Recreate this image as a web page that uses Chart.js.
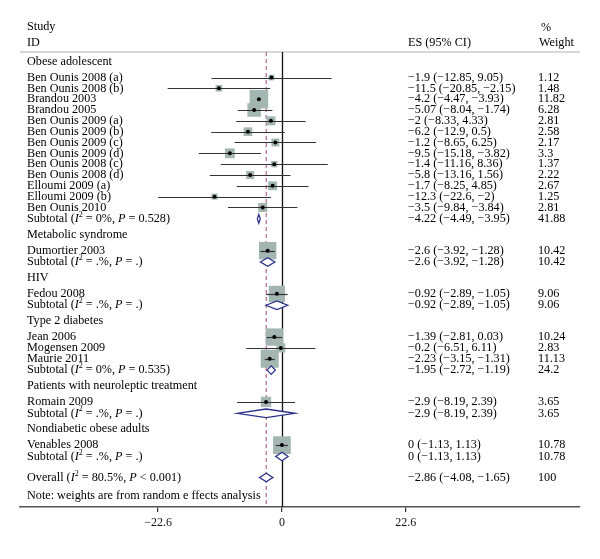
<!DOCTYPE html>
<html><head><meta charset="utf-8">
<script src="https://cdn.jsdelivr.net/npm/chart.js@4"></script>
<style>html,body{margin:0;padding:0;background:#fff}#wrap{width:600px;height:559px;position:relative}</style>
</head><body><div id="wrap"><canvas id="c" width="600" height="559"></canvas></div>
<script>
// ---------- data ----------
const rowTypes = ["group","study","study","study","study","study","study","study","study","study","study","study","study","study","subtotal",
  "group","study","subtotal",
  "group","study","subtotal",
  "group","study","study","study","subtotal",
  "group","study","subtotal",
  "group","study","subtotal",
  "overall","note"];
const rowLabels = ["Obese adolescent","Ben Ounis 2008 (a)","Ben Ounis 2008 (b)","Brandou 2003","Brandou 2005","Ben Ounis 2009 (a)","Ben Ounis 2009 (b)","Ben Ounis 2009 (c)","Ben Ounis 2009 (d)","Ben Ounis 2008 (c)","Ben Ounis 2008 (d)","Elloumi 2009 (a)","Elloumi 2009 (b)","Ben Ounis 2010",
  "Subtotal (*I*^2^ = 0%, *P* = 0.528)",
  "Metabolic syndrome","Dumortier 2003","Subtotal (*I*^2^ = .%, *P* = .)",
  "HIV","Fedou 2008","Subtotal (*I*^2^ = .%, *P* = .)",
  "Type 2 diabetes","Jean 2006","Mogensen 2009","Maurie 2011","Subtotal (*I*^2^ = 0%, *P* = 0.535)",
  "Patients with neuroleptic treatment","Romain 2009","Subtotal (*I*^2^ = .%, *P* = .)",
  "Nondiabetic obese adults","Venables 2008","Subtotal (*I*^2^ = .%, *P* = .)",
  "Overall (*I*^2^ = 80.5%, *P* < 0.001)","Note: weights are from random e ffects analysis"];
const es     = [null,-1.9,-11.5,-4.2,-5.07,-2,-6.2,-1.2,-9.5,-1.4,-5.8,-1.7,-12.3,-3.5,-4.22, null,-2.6,-2.6, null,-0.92,-0.92, null,-1.39,-0.2,-2.23,-1.95, null,-2.9,-2.9, null,0,0, -2.86,null];
const ciLow  = [null,-12.85,-20.85,-4.47,-8.04,-8.33,-12.9,-8.65,-15.18,-11.16,-13.16,-8.25,-22.6,-9.84,-4.49, null,-3.92,-3.92, null,-2.89,-2.89, null,-2.81,-6.51,-3.15,-2.72, null,-8.19,-8.19, null,-1.13,-1.13, -4.08,null];
const ciHigh = [null,9.05,-2.15,-3.93,-1.74,4.33,0.5,6.25,-3.82,8.36,1.56,4.85,-2,2.84,-3.95, null,-1.28,-1.28, null,1.05,1.05, null,0.03,6.11,-1.31,-1.19, null,2.39,2.39, null,1.13,1.13, -1.65,null];
const ciLabels = [null,"−1.9 (−12.85, 9.05)","−11.5 (−20.85, −2.15)","−4.2 (−4.47, −3.93)","−5.07 (−8.04, −1.74)","−2 (−8.33, 4.33)","−6.2 (−12.9, 0.5)","−1.2 (−8.65, 6.25)","−9.5 (−15.18, −3.82)","−1.4 (−11.16, 8.36)","−5.8 (−13.16, 1.56)","−1.7 (−8.25, 4.85)","−12.3 (−22.6, −2)","−3.5 (−9.84, −3.84)","−4.22 (−4.49, −3.95)",
  null,"−2.6 (−3.92, −1.28)","−2.6 (−3.92, −1.28)",
  null,"−0.92 (−2.89, −1.05)","−0.92 (−2.89, −1.05)",
  null,"−1.39 (−2.81, 0.03)","−0.2 (−6.51, 6.11)","−2.23 (−3.15, −1.31)","−1.95 (−2.72, −1.19)",
  null,"−2.9 (−8.19, 2.39)","−2.9 (−8.19, 2.39)",
  null,"0 (−1.13, 1.13)","0 (−1.13, 1.13)",
  "−2.86 (−4.08, −1.65)",null];
const weights = [null,1.12,1.48,11.82,6.28,2.81,2.58,2.17,3.3,1.37,2.22,2.67,1.25,2.81,41.88, null,10.42,10.42, null,9.06,9.06, null,10.24,2.83,11.13,24.2, null,3.65,3.65, null,10.78,10.78, 100,null];
const xTicks = [-22.6, 0, 22.6];
const overallES = -2.86;
const headLeft = ["Study","ID"];
const headES = "ES (95% CI)";
const headW = ["%","Weight"];

// ---------- layout ----------
const GAP = {start:9.5,'group>study':16,'study>study':10.83,'study>subtotal':11.4,'subtotal>group':15.8,'subtotal>overall':21,'overall>note':18.7};
const rowY = []; { let y=0, prev='start'; rowTypes.forEach((t,i)=>{ y += i===0?GAP.start:GAP[prev+'>'+t]; rowY.push(y); prev=t; }); }
const FONT = '"Liberation Serif","Times New Roman",serif';
const FS = 12.2;
const BOX_K = 5.4;
const COL_ES = 408, COL_W = 538, COL_L = 27;

const studyPts = [];
rowTypes.forEach((t,i)=>{ if(t==='study') studyPts.push({x:es[i], y:rowY[i], w:weights[i], i}); });

const fmtTick = v => v<0 ? '−'+Math.abs(v) : String(v);

function drawRich(ctx, str, x, y){
  const parts = str.split(/(\*[^*]+\*|\^[^^]+\^)/).filter(s=>s.length);
  ctx.textBaseline='middle'; ctx.textAlign='left';
  for(const p of parts){
    let t=p, f=FS+'px '+FONT, dy=0;
    if(p[0]==='*'){ t=p.slice(1,-1); f='italic '+FS+'px '+FONT; }
    else if(p[0]==='^'){ t=p.slice(1,-1); f='8px '+FONT; dy=-4; }
    ctx.font=f; ctx.fillText(t, x, y+dy); x += ctx.measureText(t).width;
  }
}

const forest = {
  id:'forest',
  beforeDatasetsDraw(chart){
    const {ctx, chartArea:a, scales:{x}} = chart;
    ctx.save();
    ctx.strokeStyle='#c8cccc'; ctx.lineWidth=1.5;
    ctx.beginPath(); ctx.moveTo(a.left,a.top); ctx.lineTo(a.right,a.top); ctx.stroke();
    const x0=Math.round(x.getPixelForValue(0))+0.5;
    ctx.strokeStyle='#111'; ctx.lineWidth=1.3;
    ctx.beginPath(); ctx.moveTo(x0,a.top); ctx.lineTo(x0,a.bottom); ctx.stroke();
    const xo=x.getPixelForValue(overallES);
    ctx.strokeStyle='#b06a8a'; ctx.lineWidth=1.2; ctx.setLineDash([4,3]);
    ctx.beginPath(); ctx.moveTo(xo,a.top); ctx.lineTo(xo,a.bottom); ctx.stroke();
    ctx.restore();
  },
  afterDatasetDraw(chart, args){
    if(args.index!==1) return;
    const {ctx, scales:{x,y}} = chart;
    ctx.save(); ctx.strokeStyle='#333'; ctx.lineWidth=1.2;
    rowTypes.forEach((t,i)=>{
      if(t!=='study') return;
      const py=Math.round(y.getPixelForValue(rowY[i]))+0.5;
      ctx.beginPath(); ctx.moveTo(x.getPixelForValue(ciLow[i]),py); ctx.lineTo(x.getPixelForValue(ciHigh[i]),py); ctx.stroke();
    });
    ctx.restore();
  },
  afterDatasetsDraw(chart){
    const {ctx, scales:{x,y}} = chart;
    ctx.save(); ctx.strokeStyle='#2a2f8c'; ctx.fillStyle='#fff'; ctx.lineWidth=1.3;
    rowTypes.forEach((t,i)=>{
      if(t!=='subtotal' && t!=='overall') return;
      const py=y.getPixelForValue(rowY[i]);
      const xl=x.getPixelForValue(ciLow[i]), xc=x.getPixelForValue(es[i]), xr=x.getPixelForValue(ciHigh[i]);
      const h=4.3;
      ctx.beginPath(); ctx.moveTo(xl,py); ctx.lineTo(xc,py-h); ctx.lineTo(xr,py); ctx.lineTo(xc,py+h); ctx.closePath();
      ctx.fill(); ctx.stroke();
    });
    ctx.restore();
  },
  afterDraw(chart){
    const {ctx, chartArea:a, scales:{y}} = chart;
    ctx.save(); ctx.fillStyle='#000';
    ctx.font=FS+'px '+FONT; ctx.textBaseline='middle'; ctx.textAlign='left';
    ctx.fillText(headLeft[0], COL_L, a.top-25);
    ctx.fillText(headLeft[1], COL_L, a.top-9);
    ctx.fillText(headES, COL_ES, a.top-9);
    ctx.fillText(headW[0], COL_W+3, a.top-24);
    ctx.fillText(headW[1], COL_W+1, a.top-9);
    rowTypes.forEach((t,i)=>{
      const py=y.getPixelForValue(rowY[i]);
      drawRich(ctx, rowLabels[i], COL_L, py);
      ctx.font=FS+'px '+FONT;
      if(ciLabels[i]) ctx.fillText(ciLabels[i], COL_ES, py);
      if(weights[i]!=null) ctx.fillText(String(weights[i]), COL_W, py);
    });
    ctx.restore();
  }
};

new Chart(document.getElementById('c'), {
  type:'scatter',
  data:{datasets:[
    {label:'ES', data:studyPts, pointStyle:'circle', pointRadius:2, pointHoverRadius:2, backgroundColor:'#000', borderWidth:0},
    {label:'weight', data:studyPts, pointStyle:'rect',
     pointRadius: c => BOX_K*Math.sqrt(c.raw.w)/Math.SQRT2, pointHoverRadius: c => BOX_K*Math.sqrt(c.raw.w)/Math.SQRT2,
     backgroundColor:'#a3b6b2', borderWidth:0}
  ]},
  options:{
    responsive:false, animation:false, devicePixelRatio:1,
    layout:{padding:{top:52,bottom:32,left:20,right:20}},
    plugins:{legend:{display:false}, tooltip:{enabled:false}},
    events:[],
    scales:{
      x:{type:'linear', min:-47.8, max:54.4,
        afterBuildTicks: s => { s.ticks = xTicks.map(v=>({value:v})); },
        afterFit: s => { s.height = 20; },
        ticks:{callback: v => fmtTick(v), font:{family:FONT,size:12}, color:'#111', padding:4, autoSkip:false, maxRotation:0},
        grid:{drawOnChartArea:false, drawTicks:true, tickLength:5, color:'#333', lineWidth:1.2},
        border:{display:true, color:'#555', width:1.5}
      },
      y:{type:'linear', reverse:true, min:0, max:455, display:false}
    }
  },
  plugins:[forest]
});
</script></body></html>
